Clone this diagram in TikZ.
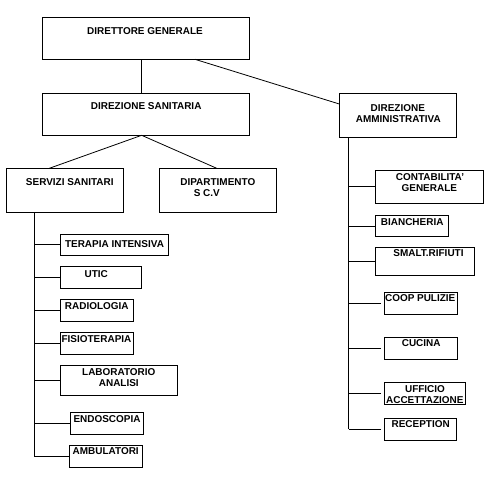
\documentclass[tikz,border=0pt]{standalone}
\usepackage{fontspec}
\setmainfont{Liberation Sans}
\begin{document}
\begin{tikzpicture}[x=1bp,y=-1bp, line width=0.8bp,
  box/.style={draw, rectangle, anchor=north west, inner sep=0pt, outer sep=0pt},
  lbl/.style={anchor=base, inner sep=0pt, font=\fontsize{10}{11}\selectfont\bfseries},
  gap/.style={shorten >=3bp}]
\useasboundingbox (0,0) rectangle (490,482);
% boxes
\node[box, minimum width=207.3bp, minimum height=42bp] (dg) at (42,17.3) {};
\node[box, minimum width=207.3bp, minimum height=42bp] (ds) at (42,93.3) {};
\node[box, minimum width=117bp, minimum height=44bp] (da) at (339.3,93.3) {};
\node[box, minimum width=117.3bp, minimum height=44bp] (ss) at (6,168.3) {};
\node[box, minimum width=117.4bp, minimum height=44bp] (dip) at (159.3,168.3) {};
\node[box, minimum width=108bp, minimum height=21bp] (ti) at (60.3,234.3) {};
\node[box, minimum width=81bp, minimum height=21.7bp] (utic) at (60.3,266.3) {};
\node[box, minimum width=73bp, minimum height=22bp] (rad) at (60.3,299.3) {};
\node[box, minimum width=73bp, minimum height=22bp] (fis) at (60.3,332.3) {};
\node[box, minimum width=117bp, minimum height=30bp] (lab) at (60.3,365.3) {};
\node[box, minimum width=73bp, minimum height=22bp] (endo) at (70.3,412.3) {};
\node[box, minimum width=73.4bp, minimum height=22bp] (amb) at (69.3,445.3) {};
\node[box, minimum width=108bp, minimum height=33bp] (cont) at (375.3,170.3) {};
\node[box, minimum width=72.7bp, minimum height=21.4bp] (bian) at (375.3,215.3) {};
\node[box, minimum width=99bp, minimum height=27.7bp] (smalt) at (375.3,247.3) {};
\node[box, minimum width=73bp, minimum height=22bp] (coop) at (384,292.3) {};
\node[box, minimum width=73.3bp, minimum height=22bp] (cuc) at (384,337.3) {};
\node[box, minimum width=81.7bp, minimum height=22.3bp] (uff) at (384,382) {};
\node[box, minimum width=72.3bp, minimum height=21.7bp] (rec) at (384,418.3) {};
% labels
\node[lbl] (tdg) at (145,34.7) {DIRETTORE GENERALE};
\node[lbl] (tds) at (146.2,109.7) {DIREZIONE SANITARIA};
\node[lbl] (tda1) at (397.8,111.7) {DIREZIONE};
\node[lbl] (tda2) at (398.3,123) {AMMINISTRATIVA};
\node[lbl] (tss) at (69.8,186) {SERVIZI SANITARI};
\node[lbl] (tdip1) at (217.8,185.7) {DIPARTIMENTO};
\node[lbl] (tdip2) at (206.8,196.3) {S C.V};
\node[lbl] (tti) at (114.5,247) {TERAPIA INTENSIVA};
\node[lbl] (tutic) at (96.3,277) {UTIC};
\node[lbl] (trad) at (96.8,309.3) {RADIOLOGIA};
\node[lbl] (tfis) at (96.5,342.3) {FISIOTERAPIA};
\node[lbl] (tlab1) at (118.8,375.7) {LABORATORIO};
\node[lbl] (tlab2) at (118.8,386.3) {ANALISI};
\node[lbl] (tendo) at (107,422.3) {ENDOSCOPIA};
\node[lbl] (tamb) at (105.7,454.3) {AMBULATORI};
\node[lbl] (tcont1) at (430,180.3) {CONTABILITA'};
\node[lbl] (tcont2) at (429.3,191.3) {GENERALE};
\node[lbl] (tbian) at (412.2,225.3) {BIANCHERIA};
\node[lbl] (tsmalt) at (428.5,256) {SMALT.RIFIUTI};
\node[lbl] (tcoop) at (420.2,301) {COOP PULIZIE};
\node[lbl] (tcuc) at (421.2,346.3) {CUCINA};
\node[lbl] (tuff1) at (425,392.3) {UFFICIO};
\node[lbl] (tuff2) at (424.8,403.3) {ACCETTAZIONE};
\node[lbl] (trec) at (420.7,427.3) {RECEPTION};
% connectors
\draw ([xshift=-4bp]dg.south) -- ([xshift=-4bp]ds.north);
\draw ([xshift=49.3bp]dg.south) -- ([yshift=-10.7bp]da.north west);
\draw ([xshift=-4bp]ds.south) -- ([xshift=-15.3bp]ss.north);
\draw ([xshift=-4bp]ds.south) -- ([xshift=-1.3bp]dip.north);
\coordinate (ssTop) at ([xshift=28.3bp]ss.south west);
\coordinate (ssEnd) at (ssTop |- amb.west);
\draw (ssTop) -- (ssEnd);
\foreach \n in {ti,utic,rad,fis,lab,endo,amb} \draw (ssTop |- \n.west) -- (\n.west);
\coordinate (daTop) at ([xshift=9.4bp]da.south west);
\coordinate (daEnd) at (daTop |- rec.west);
\draw (daTop) -- (daEnd);
\foreach \n in {cont,bian,smalt} \draw (daTop |- \n.west) -- (\n.west);
\foreach \n in {coop,cuc,uff,rec} \draw[gap] (daTop |- \n.west) -- (\n.west);
\end{tikzpicture}
\end{document}
